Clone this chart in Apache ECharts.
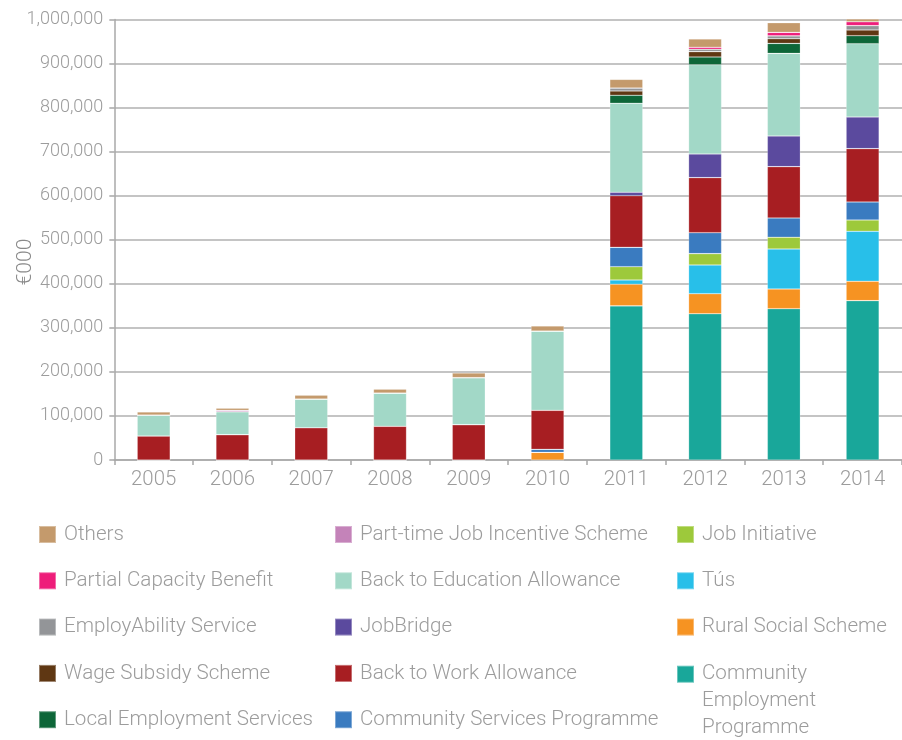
<!DOCTYPE html>
<html>
<head>
<meta charset="utf-8">
<script src="https://cdn.jsdelivr.net/npm/echarts@6/dist/echarts.min.js"></script>
<style>
  html, body { margin: 0; padding: 0; background: #fff; }
  #chart { width: 902px; height: 740px; }
</style>
</head>
<body>
<div id="chart"></div>
<script>
// years on the x axis
var years = ["2005", "2006", "2007", "2008", "2009", "2010", "2011", "2012", "2013", "2014"];

// spending per scheme, €000
var communityEmployment = [0, 0, 0, 0, 0, 0, 350000, 332000, 343500, 361700];
var ruralSocial = [0, 0, 0, 0, 0, 17400, 49000, 45500, 44700, 44000];
var tus = [0, 0, 0, 0, 0, 0, 9600, 65200, 90800, 113500];
var jobInitiative = [0, 0, 0, 0, 0, 0, 30200, 25700, 26600, 25600];
var communityServices = [0, 0, 0, 0, 0, 6800, 44000, 47600, 43800, 40900];
var backToWork = [54500, 57500, 73300, 76500, 80200, 88600, 117200, 125000, 116500, 121100];
var jobBridge = [0, 0, 0, 0, 0, 0, 7700, 53700, 69600, 71900];
var backToEducation = [47500, 52200, 65200, 75500, 106700, 180000, 202100, 202500, 187500, 166300];
var localEmployment = [0, 0, 0, 0, 0, 0, 18200, 17700, 22700, 18200];
var wageSubsidy = [0, 0, 0, 0, 0, 0, 9700, 12100, 10600, 13000];
var employAbility = [0, 0, 0, 0, 0, 0, 6800, 5500, 6600, 9800];
var partialCapacity = [0, 0, 0, 0, 0, 0, 0, 4500, 7900, 9000];
var partTimeJob = [0, 3000, 0, 0, 0, 0, 0, 0, 0, 0];
var others = [7000, 5000, 8400, 9000, 10600, 11400, 19600, 18700, 21800, 6000];

var yTicks = [0, 100000, 200000, 300000, 400000, 500000, 600000, 700000, 800000, 900000, 1000000];

// stacking order, bottom to top
var seriesList = [
  { name: "Community Employment Programme", data: communityEmployment, color: "#19a79a" },
  { name: "Rural Social Scheme", data: ruralSocial, color: "#f69322" },
  { name: "Tús", data: tus, color: "#28bfe9" },
  { name: "Job Initiative", data: jobInitiative, color: "#9dc93b" },
  { name: "Community Services Programme", data: communityServices, color: "#3a7bc0" },
  { name: "Back to Work Allowance", data: backToWork, color: "#a71e22" },
  { name: "JobBridge", data: jobBridge, color: "#5b4a9e" },
  { name: "Back to Education Allowance", data: backToEducation, color: "#a2d8c7" },
  { name: "Local Employment Services", data: localEmployment, color: "#0d6638" },
  { name: "Wage Subsidy Scheme", data: wageSubsidy, color: "#5f3713" },
  { name: "EmployAbility Service", data: employAbility, color: "#939598" },
  { name: "Partial Capacity Benefit", data: partialCapacity, color: "#ee1d7a" },
  { name: "Part-time Job Incentive Scheme", data: partTimeJob, color: "#c483b9" },
  { name: "Others", data: others, color: "#c49a6c" }
];

var textGrey = "#9c9c9c";
var fontFamily = "Roboto";

function legendColumn(left, top, names) {
  return {
    orient: "vertical",
    left: left,
    top: top,
    padding: 0,
    itemWidth: 17,
    itemHeight: 17,
    itemGap: 24.3,
    icon: "rect",
    selectedMode: false,
    textStyle: { color: textGrey, fontSize: 20.6, fontWeight: 300, fontFamily: fontFamily, lineHeight: 22, padding: [0, 0, 0, 3] },
    data: names
  };
}

var chart = echarts.init(document.getElementById("chart"));

chart.setOption({
  animation: false,
  grid: { left: 114.3, right: -4, top: 19.5, bottom: 280 },
  xAxis: {
    type: "category",
    data: years,
    axisLine: { lineStyle: { color: "#a8a8a8", width: 1.5 } },
    axisTick: { show: true, length: 5, lineStyle: { color: "#a8a8a8", width: 1.5 } },
    axisLabel: { color: textGrey, fontSize: 20.4, fontWeight: 300, fontFamily: fontFamily, margin: 10 }
  },
  yAxis: {
    type: "value",
    min: yTicks[0],
    max: yTicks[yTicks.length - 1],
    interval: yTicks[1] - yTicks[0],
    axisLine: { show: true, lineStyle: { color: "#a8a8a8", width: 1.5 } },
    axisTick: { show: true, length: 5, lineStyle: { color: "#a8a8a8", width: 1.5 } },
    axisLabel: {
      color: textGrey, fontSize: 18, fontWeight: 300, fontFamily: fontFamily, margin: 11,
      formatter: function (v) { return v.toLocaleString("en-US"); }
    },
    splitLine: { lineStyle: { color: "#b0b0b0", width: 1.5 } }
  },
  legend: [
    legendColumn(38, 523.5, ["Others", "Partial Capacity Benefit", "EmployAbility Service", "Wage Subsidy Scheme", "Local Employment Services"]),
    legendColumn(334, 523.5, ["Part-time Job Incentive Scheme", "Back to Education Allowance", "JobBridge", "Back to Work Allowance", "Community Services Programme"]),
    legendColumn(676, 523.5, ["Job Initiative", "Tús", "Rural Social Scheme"]),
    {
      // two blank lines on top so that the first word sits beside the swatch
      left: 676,
      top: 606.7,
      padding: 0,
      itemWidth: 17,
      itemHeight: 17,
      icon: "rect",
      selectedMode: false,
      formatter: function () { return "\n\nCommunity\nEmployment\nProgramme"; },
      textStyle: { color: textGrey, fontSize: 20.6, fontWeight: 300, fontFamily: fontFamily, lineHeight: 27, padding: [0, 0, 0, 3] },
      data: ["Community Employment Programme"]
    }
  ],
  graphic: [{
    type: "text",
    x: 26,
    y: 262,
    rotation: Math.PI / 2,
    style: {
      text: "€000", fill: "#8a8a8a", fontSize: 21, fontWeight: 300, fontFamily: fontFamily,
      align: "center", verticalAlign: "middle"
    }
  }],
  series: seriesList.map(function (s) {
    return {
      name: s.name,
      type: "bar",
      stack: "total",
      barWidth: 33,
      clip: false,
      data: s.data,
      itemStyle: { color: s.color, borderColor: "rgba(255,255,255,0.35)", borderWidth: 0.6 },
      emphasis: { disabled: true }
    };
  })
});
</script>
</body>
</html>
